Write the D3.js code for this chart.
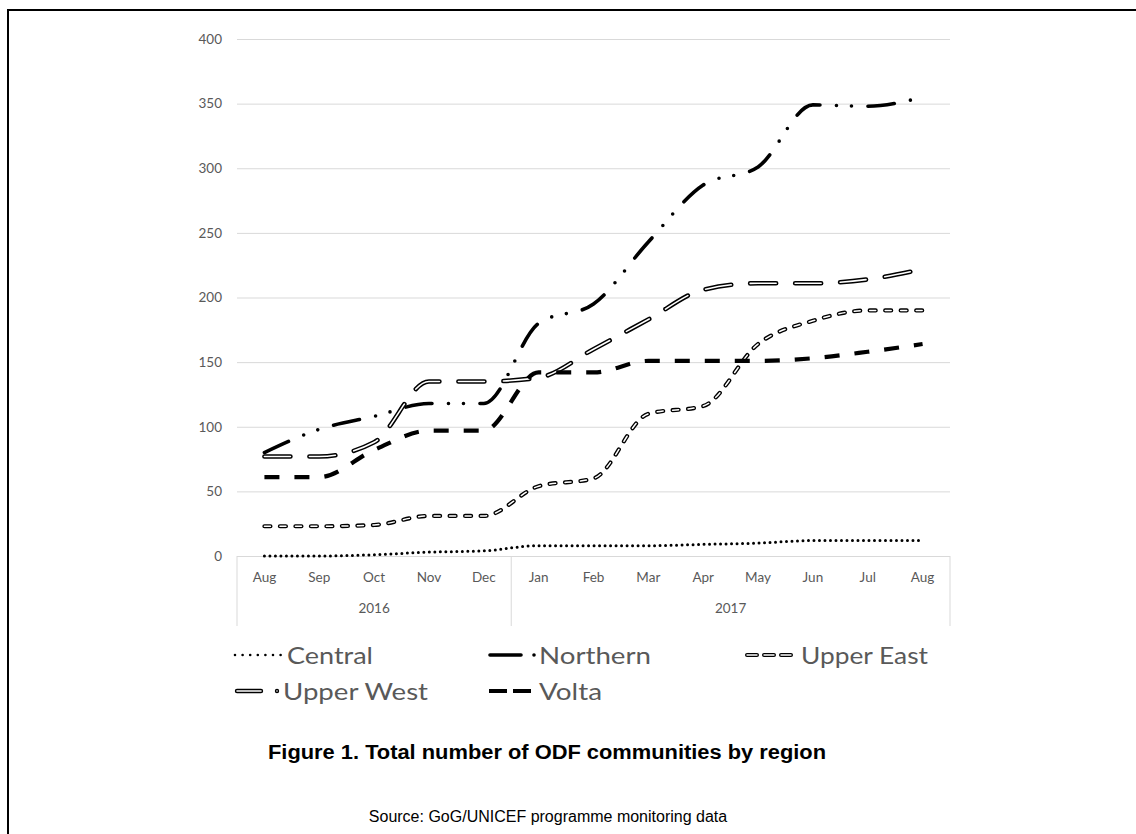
<!DOCTYPE html>
<html>
<head>
<meta charset="utf-8">
<script src="https://cdn.jsdelivr.net/npm/d3@7"></script>
<style>
  html, body { margin: 0; padding: 0; background: #fff; }
  svg { display: block; }
</style>
</head>
<body>
<svg id="chart" width="1136" height="834"></svg>
<script>
// ---------- DATA ----------
const months = ["Aug","Sep","Oct","Nov","Dec","Jan","Feb","Mar","Apr","May","Jun","Jul","Aug"];
const yearLabels = ["2016", "2017"];
const yearSpans = [5, 8]; // number of months under each year
const yTicks = [0, 50, 100, 150, 200, 250, 300, 350, 400];

const central   = [0, 0, 1, 3, 4, 8, 8, 8, 9, 10, 12, 12, 12];
const northern  = [80, 98, 108, 118, 118, 180, 195, 243, 287, 301, 349, 348, 355];
const upperEast = [23, 23, 24, 31, 31, 54, 60, 110, 116, 164, 182, 190, 190];
const upperWest = [77, 77, 88, 135, 135, 138, 160, 183, 206, 211, 211, 214, 222];
const volta     = [61, 61, 82, 97, 97, 142, 142, 151, 151, 151, 153, 158, 164];

const seriesNames = ["Central", "Northern", "Upper East", "Upper West", "Volta"];
const titleText = "Figure 1. Total number of ODF communities by region";
const sourceText = "Source: GoG/UNICEF programme monitoring data";

// ---------- STYLES ----------
const styles = {
  "Central":    { kind: "single", width: 3,   dash: "0 5.5", cap: "round",
                  legendDash: "0 7.6", legendWidth: 2.6 },
  "Northern":   { kind: "single", width: 3.6, dash: "26.5 16.5 0 15 0 16.5", cap: "round",
                  legendDash: "31 13 0 100", legendWidth: 3.6 },
  "Upper East": { kind: "double", outer: 4.2, inner: 1.5, dash: "6 9.5", cap: "round",
                  legendDash: "10 7", legendOuter: 4, legendInner: 1.4 },
  "Upper West": { kind: "double", outer: 4.6, inner: 1.6, dash: "26 19", cap: "round",
                  legendDash: "24 16 0 100", legendOuter: 4.4, legendInner: 1.6 },
  "Volta":      { kind: "single", width: 4.2, dash: "15 15", cap: "butt",
                  legendDash: "18 6", legendWidth: 4 }
};

const seriesData = [central, northern, upperEast, upperWest, volta];

// ---------- LAYOUT ----------
const svg = d3.select("#chart");
const plotLeft = 237, plotRight = 950, plotTop = 39, plotBottom = 556;
const gridColor = "#d9d9d9", textColor = "#595959";
const labelFont = "Lato, 'Open Sans', sans-serif";

// frame (top + left rules)
svg.append("path")
  .attr("d", "M7,10H1136M8,10V834")
  .attr("fill", "none").attr("stroke", "#000").attr("stroke-width", 2);

const x = d3.scaleBand().domain(d3.range(months.length)).range([plotLeft, plotRight]).padding(0);
const xc = i => x(i) + x.bandwidth() / 2;
const y = d3.scaleLinear().domain([0, 400]).range([plotBottom, plotTop]);

// gridlines + y tick labels via axis
const yAxis = d3.axisLeft(y).tickValues(yTicks).tickSize(-(plotRight - plotLeft)).tickPadding(15);
const gy = svg.append("g").attr("transform", `translate(${plotLeft},0)`).call(yAxis);
gy.select(".domain").remove();
gy.selectAll(".tick line").attr("stroke", gridColor).attr("stroke-width", 1);
gy.selectAll(".tick text")
  .attr("fill", textColor).style("font-family", labelFont).style("font-size", "13.5px");

// category axis (months)
const xAxis = d3.axisBottom(x).tickFormat(i => months[i]).tickSize(0).tickPadding(16);
const gx = svg.append("g").attr("transform", `translate(0,${plotBottom})`).call(xAxis);
gx.select(".domain").attr("stroke", gridColor).attr("d", `M${plotLeft},0.5H${plotRight}`);
gx.selectAll(".tick text")
  .attr("fill", textColor).style("font-family", labelFont).style("font-size", "13.5px");

// year grouping boxes
let start = 0;
const sepX = [plotLeft];
yearSpans.forEach((n, k) => {
  const x0 = x(start), x1 = x(start + n - 1) + x.bandwidth();
  svg.append("text")
    .attr("x", (x0 + x1) / 2).attr("y", 613)
    .attr("text-anchor", "middle").attr("fill", textColor)
    .style("font-family", labelFont).style("font-size", "13.5px")
    .text(yearLabels[k]);
  sepX.push(x1);
  start += n;
});
sepX.forEach(sx => {
  svg.append("line")
    .attr("x1", sx).attr("x2", sx).attr("y1", plotBottom).attr("y2", 626)
    .attr("stroke", gridColor).attr("stroke-width", 1);
});

// ---------- LINES ----------
const line = d3.line().x((d, i) => xc(i)).y(d => y(d)).curve(d3.curveMonotoneX);

seriesNames.forEach((name, k) => {
  const st = styles[name];
  const d = line(seriesData[k]);
  if (st.kind === "single") {
    svg.append("path").attr("d", d).attr("fill", "none")
      .attr("stroke", "#000").attr("stroke-width", st.width)
      .attr("stroke-dasharray", st.dash).attr("stroke-linecap", st.cap)
      .attr("stroke-linejoin", "round");
  } else {
    svg.append("path").attr("d", d).attr("fill", "none")
      .attr("stroke", "#000").attr("stroke-width", st.outer)
      .attr("stroke-dasharray", st.dash).attr("stroke-linecap", st.cap)
      .attr("stroke-linejoin", "round");
    svg.append("path").attr("d", d).attr("fill", "none")
      .attr("stroke", "#fff").attr("stroke-width", st.inner)
      .attr("stroke-dasharray", st.dash).attr("stroke-linecap", st.cap)
      .attr("stroke-linejoin", "round");
  }
});

// ---------- LEGEND ----------
const legendItems = [
  { name: "Central",    x0: 235, x1: 281, tx: 287, tw: 86,  row: 0 },
  { name: "Northern",   x0: 490, x1: 536, tx: 539, tw: 112, row: 0 },
  { name: "Upper East", x0: 747, x1: 796, tx: 801, tw: 127, row: 0 },
  { name: "Upper West", x0: 237, x1: 279, tx: 283, tw: 145, row: 1 },
  { name: "Volta",      x0: 489, x1: 534, tx: 539, tw: 63,  row: 1 }
];
const rowY = [655, 691];
const rowBase = [663, 699];
legendItems.forEach(it => {
  const st = styles[it.name];
  const ly = rowY[it.row];
  const seg = `M${it.x0},${ly}H${it.x1}`;
  if (st.kind === "single") {
    svg.append("path").attr("d", seg).attr("fill", "none")
      .attr("stroke", "#000").attr("stroke-width", st.legendWidth)
      .attr("stroke-dasharray", st.legendDash).attr("stroke-linecap", st.cap);
  } else {
    svg.append("path").attr("d", seg).attr("fill", "none")
      .attr("stroke", "#000").attr("stroke-width", st.legendOuter)
      .attr("stroke-dasharray", st.legendDash).attr("stroke-linecap", st.cap);
    svg.append("path").attr("d", seg).attr("fill", "none")
      .attr("stroke", "#fff").attr("stroke-width", st.legendInner)
      .attr("stroke-dasharray", st.legendDash).attr("stroke-linecap", st.cap);
  }
  svg.append("text")
    .attr("x", it.tx).attr("y", rowBase[it.row] + 1)
    .attr("fill", textColor)
    .attr("textLength", it.tw).attr("lengthAdjust", "spacingAndGlyphs")
    .style("font-family", labelFont).style("font-size", "23.5px")
    .text(it.name);
});

// ---------- TITLE / SOURCE ----------
svg.append("text")
  .attr("x", 547).attr("y", 759).attr("text-anchor", "middle")
  .attr("fill", "#000")
  .attr("textLength", 558).attr("lengthAdjust", "spacingAndGlyphs")
  .style("font-family", "'Liberation Sans', Arial, sans-serif")
  .style("font-weight", "bold").style("font-size", "20px")
  .text(titleText);

svg.append("text")
  .attr("x", 548).attr("y", 822).attr("text-anchor", "middle")
  .attr("fill", "#000")
  .style("font-family", "'Liberation Sans', Arial, sans-serif")
  .style("font-size", "16px")
  .text(sourceText);
</script>
</body>
</html>
